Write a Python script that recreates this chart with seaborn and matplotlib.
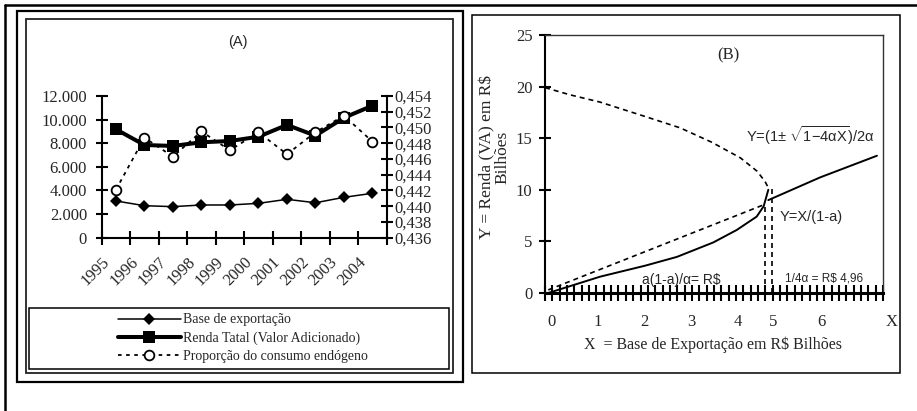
import numpy as np
import matplotlib
matplotlib.use("Agg")
import matplotlib.pyplot as plt
import seaborn as sns
from matplotlib.patches import Rectangle
from matplotlib.lines import Line2D

# ---------------- Panel A data ----------------
years = ["1995", "1996", "1997", "1998", "1999", "2000", "2001", "2002", "2003", "2004"]
base_exportacao = [3110, 2710, 2630, 2770, 2770, 2910, 3250, 2960, 3420, 3760]
renda_total = [9180, 7850, 7770, 8080, 8190, 8550, 9550, 8640, 10160, 11180]
proporcao = [0.4421, 0.4487, 0.4463, 0.4495, 0.4471, 0.4494, 0.4466, 0.4494, 0.4515, 0.4482]
left_ticks = [0, 2000, 4000, 6000, 8000, 10000, 12000]
right_ticks = [0.436, 0.438, 0.440, 0.442, 0.444, 0.446, 0.448, 0.450, 0.452, 0.454]
legend_labels = ["Base de exportação", "Renda Tatal (Valor Adicionado)",
                 "Proporção do consumo endógeno"]

# ---------------- Panel B data ----------------
upper_x = [-0.13, 0.41, 1.05, 2.02, 2.77, 3.45, 4.06, 4.42, 4.59, 4.66]
upper_y = [19.9, 19.2, 18.5, 17.1, 16.0, 14.6, 13.1, 11.8, 10.8, 10.2]
linear_x = [-0.06, 4.59]
linear_y = [0.3, 8.6]
lower_x = [-0.06, 1.05, 2.02, 2.70, 3.48, 3.98, 4.41, 4.56, 4.66]
lower_y = [0.0, 1.58, 2.65, 3.5, 4.9, 6.1, 7.4, 8.4, 10.0]
proj_x = [4.66, 5.77, 6.99]
proj_y = [9.0, 11.2, 13.3]
vline1_x = [4.59, 4.59]
vline1_y = [0.0, 8.5]
vline2_x = [4.74, 4.74]
vline2_y = [0.0, 10.1]
b_yticks = [0, 5, 10, 15, 20, 25]
b_xlabels = ["0", "1", "2", "3", "4", "5", "6", "X"]
b_xlabel_pos = [0, 1, 2, 3, 4, 4.76, 5.79, 7.30]

W, H = 917, 411
def fx(px):
    return px / W
def fy(py):
    return 1 - py / H

sns.set_style("ticks")
plt.rcParams["font.family"] = ["Liberation Serif", "DejaVu Sans"]
plt.rcParams["mathtext.fontset"] = "custom"
plt.rcParams["mathtext.rm"] = "Liberation Sans"
plt.rcParams["mathtext.it"] = "Liberation Sans"
plt.rcParams["mathtext.bf"] = "Liberation Sans:bold"
plt.rcParams["xtick.bottom"] = True
plt.rcParams["ytick.left"] = True

fig = plt.figure(figsize=(W / 100, H / 100), dpi=100)
fig.patch.set_facecolor("white")

# ---------------- frames ----------------
fig.add_artist(Line2D([fx(5), fx(917)], [fy(5), fy(5)], transform=fig.transFigure,
                      color="black", lw=1.8))
fig.add_artist(Line2D([fx(5), fx(5)], [fy(5), fy(411)], transform=fig.transFigure,
                      color="black", lw=1.8))
def box(x0, y0, x1, y1, lw, color="black"):
    fig.add_artist(Rectangle((fx(x0), fy(y1)), fx(x1) - fx(x0), fy(y0) - fy(y1),
                             transform=fig.transFigure, fill=False, lw=lw, ec=color))
box(16.5, 11, 462.7, 382.3, 1.6)
box(25.5, 19.5, 453.3, 373.3, 1.3, "#222222")
box(29, 308, 449.3, 369.3, 1.1)
box(471.7, 15, 900, 373, 1.1)

# ---------------- Panel A ----------------
axA = fig.add_axes([fx(101.7), fy(237.7), (386.7 - 101.7) / W, (237.7 - 96) / H])
axA.set_facecolor("none")
xs = np.arange(len(years))
sns.lineplot(x=xs, y=renda_total, ax=axA, color="black", lw=2.9, marker="s",
             markersize=8.5, markeredgewidth=0, legend=False)
sns.lineplot(x=xs, y=base_exportacao, ax=axA, color="black", lw=1.1, marker="D",
             markersize=6, markeredgewidth=0, legend=False)
axA.set_xlim(-0.5, len(years) - 0.5)
axA.set_ylim(0, 12000)
axA.set_yticks(left_ticks)
axA.set_yticklabels([f"{v:,}".replace(",", ".") for v in left_ticks], fontsize=12)
axA.set_xticks(np.arange(-0.5, len(years), 1.0))
axA.set_xticklabels([])
axA.tick_params(axis="x", bottom=True, direction="inout", length=10, width=1.5,
                color="black")
axA.tick_params(axis="y", left=True, direction="inout", length=9, width=1.5, pad=6,
                color="black")
for s in ["top", "right"]:
    axA.spines[s].set_visible(False)
for s in ["left", "bottom"]:
    axA.spines[s].set_linewidth(1.5)
    axA.spines[s].set_color("black")
for i, yr in enumerate(years):
    axA.text(i - 0.72, -0.24, yr, transform=axA.get_xaxis_transform(), rotation=45,
             ha="center", va="center", rotation_mode="anchor", fontsize=12)
axA.set_xlabel("")
axA.set_ylabel("")

ax2 = axA.twinx()
ax2.set_facecolor("none")
sns.lineplot(x=xs, y=proporcao, ax=ax2, color="black", lw=1.3, linestyle=(0, (2, 2.5)),
             marker="o", markersize=7, markerfacecolor="white", markeredgecolor="black",
             markeredgewidth=1.3, legend=False)
ax2.set_ylim(0.436, 0.454)
ax2.set_yticks(right_ticks)
ax2.set_yticklabels([f"{v:.3f}".replace(".", ",") for v in right_ticks], fontsize=12)
ax2.tick_params(axis="y", right=True, left=False, direction="inout", length=9, width=1.5,
                pad=1, color="black")
for s in ["top", "left", "bottom"]:
    ax2.spines[s].set_visible(False)
ax2.spines["right"].set_linewidth(1.5)
ax2.spines["right"].set_color("black")
ax2.set_ylabel("")

fig.text(fx(238), fy(42), "(A)", ha="center", va="center", family="Liberation Sans",
         fontsize=10.5)

h_renda = axA.lines[0]
h_base = axA.lines[1]
h_prop = ax2.lines[0]
fig.legend([h_base, h_renda, h_prop], legend_labels, loc="center left",
           bbox_to_anchor=(fx(118), fy(338)), frameon=False,
           prop={"family": "Liberation Serif", "size": 10}, handlelength=4.5,
           handletextpad=0.15, labelspacing=0.35, borderpad=0, borderaxespad=0)

# ---------------- Panel B ----------------
axB = fig.add_axes([fx(545), fy(293), (883 - 545) / W, (293 - 35) / H])
dash = (0, (3, 2.4))
sns.lineplot(x=upper_x, y=upper_y, ax=axB, color="black", lw=1.2, linestyle=dash,
             estimator=None, sort=False, legend=False)
sns.lineplot(x=linear_x, y=linear_y, ax=axB, color="black", lw=1.2, linestyle=dash,
             estimator=None, sort=False, legend=False)
sns.lineplot(x=lower_x, y=lower_y, ax=axB, color="black", lw=1.4,
             estimator=None, sort=False, legend=False)
sns.lineplot(x=proj_x, y=proj_y, ax=axB, color="black", lw=1.4,
             estimator=None, sort=False, legend=False)
sns.lineplot(x=vline1_x, y=vline1_y, ax=axB, color="black", lw=1.2, linestyle=dash,
             estimator=None, sort=False, legend=False)
sns.lineplot(x=vline2_x, y=vline2_y, ax=axB, color="black", lw=1.2, linestyle=dash,
             estimator=None, sort=False, legend=False)
axB.set_xlim(-0.13, 7.12)
axB.set_ylim(0, 25)
axB.set_yticks(b_yticks)
axB.set_yticklabels([str(v) for v in b_yticks], fontsize=12)
axB.set_xticks(np.linspace(-0.13, 7.12, 47))
axB.set_xticklabels([])
axB.tick_params(axis="x", bottom=True, direction="inout", length=11, width=1.5,
                color="black")
axB.tick_params(axis="y", left=True, direction="inout", length=8, width=1.5, pad=5,
                color="black")
axB.spines["left"].set_linewidth(1.5)
axB.spines["bottom"].set_linewidth(2.2)
for s in ["top", "right"]:
    axB.spines[s].set_linewidth(1.0)
    axB.spines[s].set_color("#333333")
for s in ["left", "bottom"]:
    axB.spines[s].set_color("black")
axB.set_xlabel("")
axB.set_ylabel("")
for pos, lab in zip(b_xlabel_pos, b_xlabels):
    axB.text(pos, -0.112, lab, transform=axB.get_xaxis_transform(), ha="center",
             va="center", fontsize=12, clip_on=False)
axB.text(0.497, -0.2016, "X  = Base de Exportação em R$ Bilhões", transform=axB.transAxes,
         ha="center", va="center", fontsize=11.5)
axB.text(-0.148, 0.527, "Y = Renda (VA) em R$\nBilhões", transform=axB.transAxes,
         rotation=90, ha="center", va="center", multialignment="center", fontsize=12.5,
         linespacing=0.95)
axB.text(3.80, 23.06, "(B)", ha="center", va="center", fontsize=12)
axB.text(5.56, 15.3, r"Y=(1± $\sqrt{\mathrm{1{-}4\alpha X}}$)/2α", ha="center", va="center",
         family="Liberation Sans", fontsize=10.5)
axB.text(4.91, 7.4, "Y=X/(1-a)", ha="left", va="center", family="Liberation Sans",
         fontsize=10.5)
axB.text(1.95, 1.26, "a(1-a)/α= R$", ha="left", va="center", family="Liberation Sans",
         fontsize=10)
axB.text(5.02, 1.45, "1/4α = R$ 4,96", ha="left", va="center", family="Liberation Sans",
         fontsize=8.5)

fig.savefig("out.png", dpi=100, facecolor="white")
